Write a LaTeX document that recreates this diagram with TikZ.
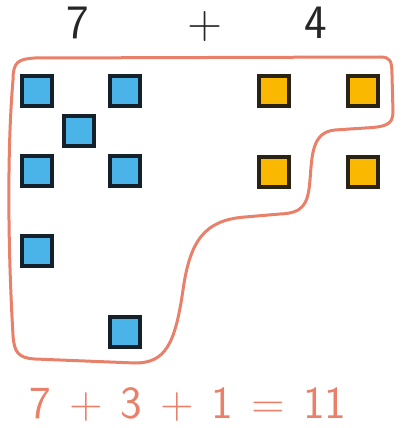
\documentclass[tikz,border=0pt]{standalone}
\usepackage{fontspec}
\definecolor{salmon}{HTML}{E8806A}
\definecolor{skyblue}{HTML}{4AB4E8}
\definecolor{sunyellow}{HTML}{FBB800}
\definecolor{darkedge}{HTML}{14202A}
\definecolor{brownedge}{HTML}{2A2212}
\begin{document}
\begin{tikzpicture}[x=1pt, y=-1pt,
  bluesq/.style={rectangle, minimum size=30pt, inner sep=0pt, line width=4pt, draw=darkedge, fill=skyblue},
  yellowsq/.style={rectangle, minimum size=30pt, inner sep=0pt, line width=4pt, draw=brownedge, fill=sunyellow},
  digit/.style={inner sep=0pt, anchor=base, text height=30pt, text depth=0pt, font=\sffamily\fontsize{48}{48}\selectfont}]
\useasboundingbox (0,0) rectangle (406,428);

\node[digit, text=black!85] (seven) at (78,38){7};
\node[digit, text=black!85] (plus) at (205,38){+};
\node[digit, text=black!85] (four) at (316,38){4};

\node[bluesq] (b0) at (37,91){};
\node[bluesq] (b1) at (125,91){};
\node[bluesq] (b2) at (79,131){};
\node[bluesq] (b3) at (37,171){};
\node[bluesq] (b4) at (125,171){};
\node[bluesq] (b5) at (37,251){};
\node[bluesq] (b6) at (125,332){};

\node[yellowsq] (y0) at (274,91){};
\node[yellowsq] (y1) at (363,91){};
\node[yellowsq] (y2) at (274,172){};
\node[yellowsq] (y3) at (363,172){};

\draw[salmon, line width=3pt, line join=round]
  (13,80) .. controls (13,62) and (18,59) .. (35,58)
  -- (380,57) .. controls (390,57) and (392,60) .. (392,75)
  -- (393,112) .. controls (393,125) and (385,127) .. (365,128)
  -- (335,130) .. controls (312,132) and (312,155) .. (310,180)
  .. controls (308,205) and (303,213) .. (280,214)
  -- (245,217) .. controls (205,220) and (190,240) .. (183,290)
  .. controls (175,345) and (165,363) .. (135,363)
  -- (35,359) .. controls (18,358) and (14,352) .. (13,335)
  .. controls (8,250) and (7,150) .. cycle;

\node[digit, text=salmon, font=\sffamily\fontsize{46}{46}\selectfont] (sum) at (188,418){\spaceskip=18pt 7 + 3 + 1 = 11};
\end{tikzpicture}
\end{document}
